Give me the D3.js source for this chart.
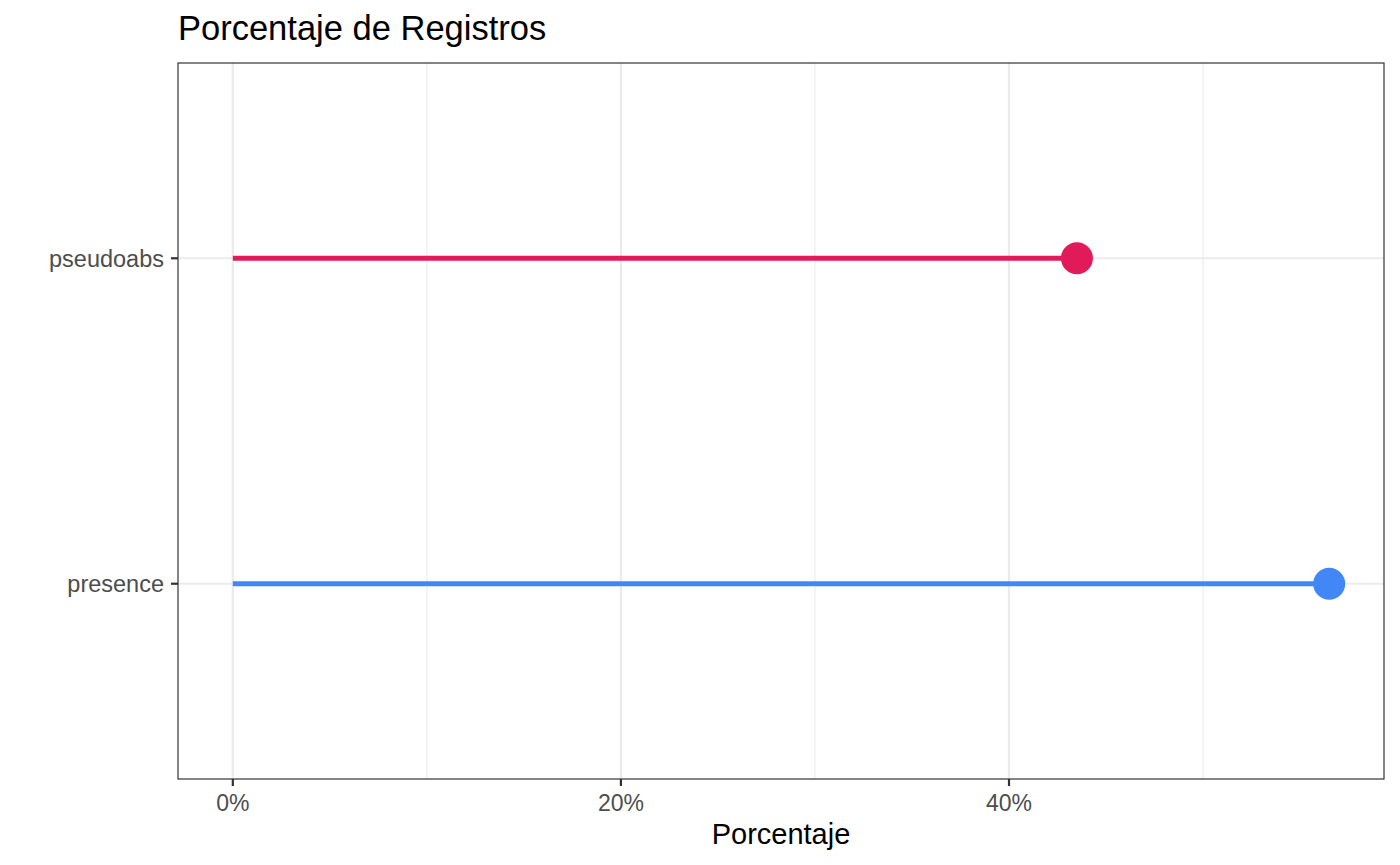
<!DOCTYPE html>
<meta charset="utf-8">
<style>
    body { margin: 0; background: #fff; }
    svg { font-family: "Liberation Sans", Arial, sans-serif; }
</style>
<body>
<script src="https://cdn.jsdelivr.net/npm/d3@7"></script>
<script>
    // data
    const categories = ["presence", "pseudoabs"];
    const percentages = [56.5, 43.5];
    const colors = ["#4287f5", "#e11b5a"];
    const majorTicks = [0, 20, 40];
    const minorTicks = [10, 30, 50];

    const width = 1400, height = 865;
    const margin = {top: 63, right: 16, bottom: 86, left: 178};
    const innerW = width - margin.left - margin.right;
    const innerH = height - margin.top - margin.bottom;

    const svg = d3.select("body").append("svg")
        .attr("width", width)
        .attr("height", height);

    // ggplot style 5% expansion
    const xMax = d3.max(percentages);
    const pad = xMax * 0.05;
    const x = d3.scaleLinear()
        .domain([-pad, xMax + pad])
        .range([0, innerW]);

    // discrete axis, 0.6 expansion each side
    const y = d3.scaleLinear()
        .domain([0.4, categories.length + 0.6])
        .range([innerH, 0]);

    const g = svg.append("g")
        .attr("transform", "translate(" + margin.left + "," + margin.top + ")");

    // minor grid
    g.selectAll(".minor")
        .data(minorTicks)
        .enter().append("line")
        .attr("x1", d => x(d)).attr("x2", d => x(d))
        .attr("y1", 0).attr("y2", innerH)
        .attr("stroke", "#ebebeb").attr("stroke-width", 1.1);

    // major grid
    g.selectAll(".major")
        .data(majorTicks)
        .enter().append("line")
        .attr("x1", d => x(d)).attr("x2", d => x(d))
        .attr("y1", 0).attr("y2", innerH)
        .attr("stroke", "#ebebeb").attr("stroke-width", 2.2);

    g.selectAll(".hgrid")
        .data(categories)
        .enter().append("line")
        .attr("x1", 0).attr("x2", innerW)
        .attr("y1", (d, i) => y(i + 1)).attr("y2", (d, i) => y(i + 1))
        .attr("stroke", "#ebebeb").attr("stroke-width", 2.2);

    // lollipops
    g.selectAll(".stem")
        .data(percentages)
        .enter().append("line")
        .attr("x1", x(0))
        .attr("x2", d => x(d))
        .attr("y1", (d, i) => y(i + 1))
        .attr("y2", (d, i) => y(i + 1))
        .attr("stroke", (d, i) => colors[i])
        .attr("stroke-width", 5);

    g.selectAll(".dot")
        .data(percentages)
        .enter().append("circle")
        .attr("cx", d => x(d))
        .attr("cy", (d, i) => y(i + 1))
        .attr("r", 16)
        .attr("fill", (d, i) => colors[i]);

    // panel border
    g.append("rect")
        .attr("width", innerW).attr("height", innerH)
        .attr("fill", "none")
        .attr("stroke", "#333333").attr("stroke-width", 1.2);

    // x axis
    const xAxis = g.append("g").attr("transform", "translate(0," + innerH + ")");
    xAxis.selectAll("line")
        .data(majorTicks)
        .enter().append("line")
        .attr("x1", d => x(d)).attr("x2", d => x(d))
        .attr("y1", 0).attr("y2", 7)
        .attr("stroke", "#333333").attr("stroke-width", 2.2);
    xAxis.selectAll("text")
        .data(majorTicks)
        .enter().append("text")
        .attr("x", d => x(d))
        .attr("y", 32)
        .attr("text-anchor", "middle")
        .attr("fill", "#4d4d4d")
        .style("font-size", "23px")
        .text(d => d + "%");

    // y axis
    const yAxis = g.append("g");
    yAxis.selectAll("line")
        .data(categories)
        .enter().append("line")
        .attr("x1", -7).attr("x2", 0)
        .attr("y1", (d, i) => y(i + 1)).attr("y2", (d, i) => y(i + 1))
        .attr("stroke", "#333333").attr("stroke-width", 2.2);
    yAxis.selectAll("text")
        .data(categories)
        .enter().append("text")
        .attr("x", -14)
        .attr("y", (d, i) => y(i + 1))
        .attr("dy", "0.36em")
        .attr("text-anchor", "end")
        .attr("fill", "#4d4d4d")
        .style("font-size", "23.5px")
        .text(d => d);

    // axis title
    svg.append("text")
        .attr("x", margin.left + innerW / 2)
        .attr("y", 844)
        .attr("text-anchor", "middle")
        .attr("fill", "#000")
        .style("font-size", "29px")
        .text("Porcentaje");

    // title
    svg.append("text")
        .attr("x", margin.left)
        .attr("y", 40)
        .attr("fill", "#000")
        .style("font-size", "34.5px")
        .text("Porcentaje de Registros");
</script>
</body>
